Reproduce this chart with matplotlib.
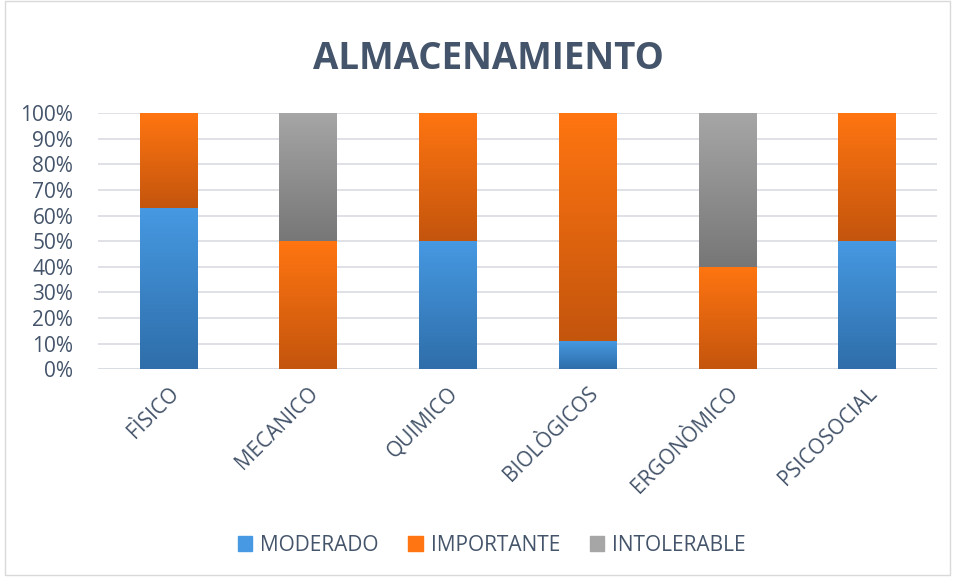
import matplotlib
matplotlib.use("Agg")
import matplotlib.pyplot as plt
import numpy as np
from matplotlib.colors import LinearSegmentedColormap
from matplotlib.patches import Rectangle

plt.rcParams['font.family'] = ['Open Sans', 'DejaVu Sans']

categorias = ["FÌSICO", "MECANICO", "QUIMICO", "BIOLÒGICOS", "ERGONÒMICO", "PSICOSOCIAL"]
moderado = [63, 0, 50, 11, 0, 50]
importante = [37, 50, 50, 89, 40, 50]
intolerable = [0, 50, 0, 0, 60, 0]
series_names = ["MODERADO", "IMPORTANTE", "INTOLERABLE"]

# (top color, bottom color) for each series
grads = [("#4699E2", "#2F6EAA"), ("#FF7511", "#C4550D"), ("#A6A6A6", "#777777")]
txt = "#44546A"

fig = plt.figure(figsize=(9.55, 5.77), dpi=100)
ax = fig.add_axes([0.103, 0.36, 0.878, 0.444])

x = np.arange(len(categorias))
w = 0.41
bottom = np.zeros(len(categorias))
for vals, name, (top_c, bot_c) in zip([moderado, importante, intolerable], series_names, grads):
    vals = np.array(vals, dtype=float)
    bars = ax.bar(x, vals, w, bottom=bottom, color=bot_c, label=name, zorder=2)
    cmap = LinearSegmentedColormap.from_list(name, [bot_c, top_c])
    grad = np.linspace(0, 1, 100).reshape(-1, 1)
    for b in bars:
        if b.get_height() <= 0:
            continue
        x0, y0 = b.get_x(), b.get_y()
        im = ax.imshow(grad, cmap=cmap, origin="lower", aspect="auto",
                       extent=[x0, x0 + b.get_width(), y0, y0 + b.get_height()], zorder=3)
        im.set_clip_path(b)
    bottom += vals

ax.set_xlim(-0.5, len(categorias) - 0.5)
ax.set_ylim(0, 100)
ax.set_yticks(np.arange(0, 101, 10))
ax.set_yticklabels([f"{v}%" for v in range(0, 101, 10)], fontsize=15, color=txt)
ax.set_xticks(x)
ax.set_xticklabels(categorias, rotation=45, ha="right", rotation_mode="anchor",
                   fontsize=15, color=txt)
ax.tick_params(axis="y", length=0, pad=18)
ax.tick_params(axis="x", length=0, pad=10)
ax.grid(axis="y", color="#D9DCE3", linewidth=1.2, zorder=0)
for s in ax.spines.values():
    s.set_visible(False)
ax.axhline(0, color="#D9DCE3", linewidth=1.2, zorder=1)

fig.text(0.511, 0.898, "ALMACENAMIENTO", ha="center", va="center",
         fontsize=26.5, fontweight="bold", color=txt)

handles = [Rectangle((0, 0), 1, 1, color=c[0]) for c in grads]
fig.legend(handles, series_names, loc="center", bbox_to_anchor=(0.515, 0.055), ncol=3,
           frameon=False, fontsize=15, labelcolor=txt, handlelength=0.7, handleheight=0.7,
           columnspacing=1.4, handletextpad=0.4)

fig.patches.append(Rectangle((0.005, 0.003), 0.99, 0.995, transform=fig.transFigure,
                             fill=False, edgecolor="#D9D9D9", linewidth=1))

fig.savefig("out.png", dpi=100)
